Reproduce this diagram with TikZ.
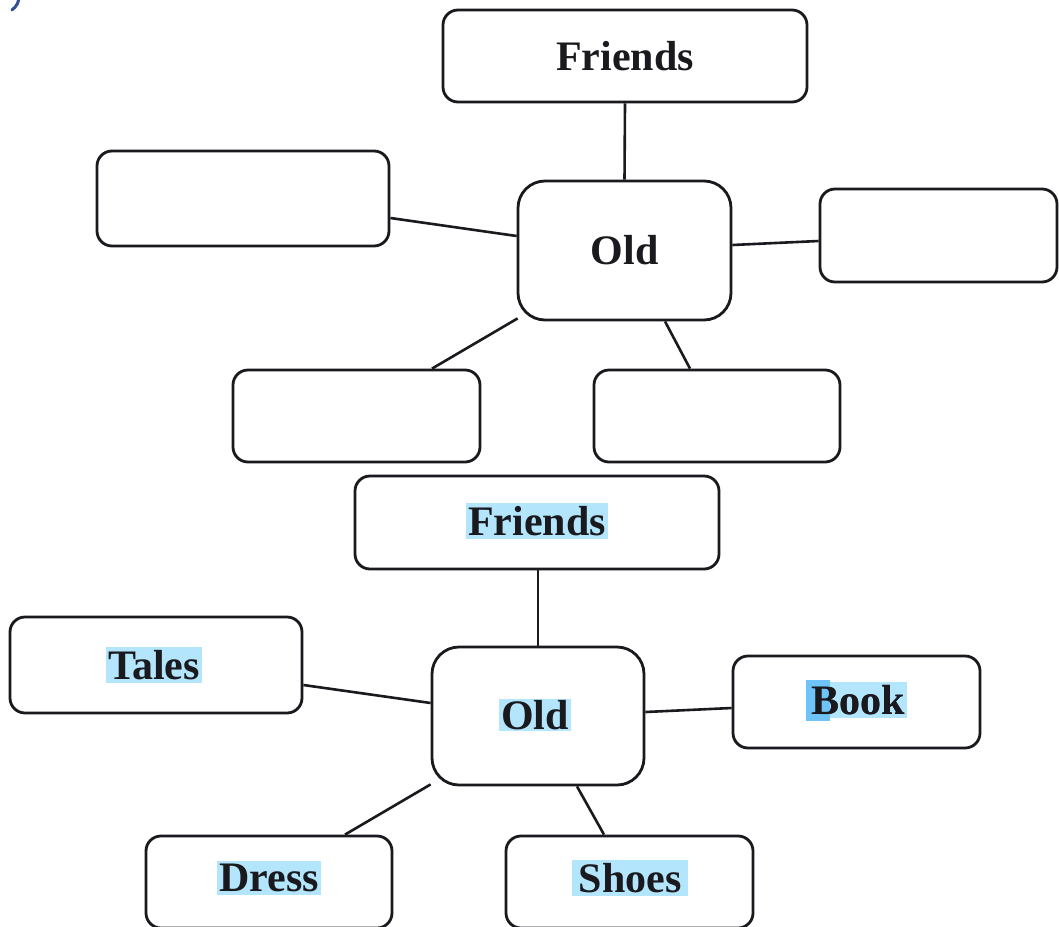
\documentclass[tikz,border=0pt]{standalone}
\usepackage{fontspec}
\setmainfont{Liberation Serif}
\usetikzlibrary{calc}
\definecolor{hl}{RGB}{179,229,252}
\definecolor{hldark}{RGB}{110,195,248}
\definecolor{ink}{RGB}{25,25,30}
\definecolor{markblue}{RGB}{50,80,150}
\begin{document}
\begin{tikzpicture}[x=1pt,y=-1pt,
  box/.style={draw=ink,line width=2.8pt,rounded corners=15pt,minimum width=#1,inner sep=0pt,
    font=\fontsize{42}{48}\selectfont\bfseries,text=ink},
  box/.default=247pt,
  hub/.style={box,rounded corners=27pt},
  link/.style={draw=ink,line width=2.6pt},
  hltext/.style={fill=hl,inner xsep=2pt,inner ysep=3pt,text=ink,font=\fontsize{42}{48}\selectfont\bfseries}
]
\useasboundingbox (0,0) rectangle (1059,926);
\clip (0,0) rectangle (1059,926);
\fill[white] (0,0) rectangle (1059,926);
% cut-off fragment of a label at the top-left corner
\draw[markblue,line width=3pt,line cap=round] (12,10) .. controls (17,6) and (19,2) .. (19,-4);

% ---------- top map ----------
\node[box=364pt,minimum height=92pt] (F1) at (625,56) {Friends};
\node[box=292pt,minimum height=95pt] (L1) at (243,198.5) {};
\node[hub,minimum width=213pt,minimum height=139pt] (O1) at (624.5,250.5) {Old};
\node[box=237pt,minimum height=93pt] (R1) at (938.5,235.5) {};
\node[box=247pt,minimum height=92pt] (BL1) at (356.5,416) {};
\node[box=246pt,minimum height=92pt] (BR1) at (717,416) {};

\draw[link] (F1.south) -- (O1.north);
\draw[link] ($(L1.east)+(0,19.5)$) -- ($(O1.west)+(0,-14.5)$);
\draw[link] ($(O1.east)+(0,-5.5)$) -- ($(R1.west)+(0,5.5)$);
\draw[link] ($(O1.south west)+(1,-3)$) -- ($(BL1.north)+(75.5,0)$);
\draw[link] ($(O1.south)+(40.5,0)$) -- ($(BR1.north)+(-27,0)$);

% ---------- bottom map ----------
\node[box=364pt,minimum height=93pt] (F2) at (537,522.5) {};
\node[hltext] (f2) at (537,521) {Friends};
\node[box=292pt,minimum height=96pt] (T2) at (156,665) {};
\node[hltext] (t2) at (154,665) {Tales};
\node[hub,minimum width=212pt,minimum height=138pt] (O2) at (538,716) {};
\node[hltext,inner ysep=1pt] (o2) at (535,715) {Old};
\node[box=247pt,minimum height=92pt] (B2) at (856.5,702) {};
\node[hltext] (b2) at (858,700) {Book};
\fill[hldark] (806,680) rectangle (830,721);
\node[text=ink,font=\fontsize{42}{48}\selectfont\bfseries,inner xsep=2pt,inner ysep=3pt] at (b2) {Book};
\node[box=246pt,minimum height=92pt] (D2) at (269,882) {};
\node[hltext] (d2) at (269,878) {Dress};
\node[box=247pt,minimum height=92pt] (S2) at (629.5,882) {};
\node[hltext,inner xsep=7pt] (s2) at (630,878) {Shoes};

\draw[link] ($(F2.south)+(1,0)$) -- (O2.north);
\draw[link] ($(T2.east)+(0,20)$) -- ($(O2.west)+(0,-13)$);
\draw[link] ($(O2.east)+(0,-4)$) -- ($(B2.west)+(0,6)$);
\draw[link] ($(O2.south west)+(0,-2)$) -- ($(D2.north)+(76,0)$);
\draw[link] ($(O2.south)+(39,0)$) -- ($(S2.north)+(-25.5,0)$);
\end{tikzpicture}
\end{document}
